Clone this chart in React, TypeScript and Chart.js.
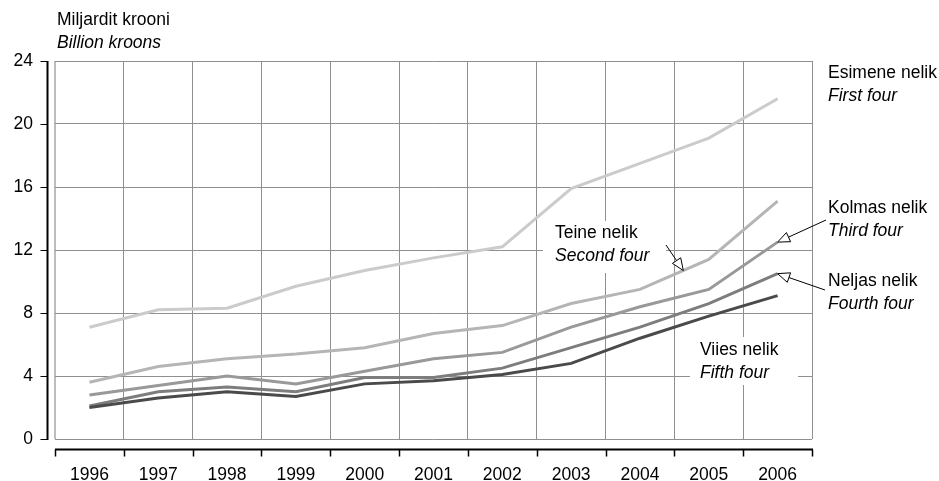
import React, { useEffect, useRef } from "react";
import { Chart, registerables } from "chart.js";

Chart.register(...registerables);

// ---- data ----
const years = ["1996", "1997", "1998", "1999", "2000", "2001", "2002", "2003", "2004", "2005", "2006"];
const firstFour = [7.1, 8.2, 8.3, 9.7, 10.7, 11.5, 12.2, 15.9, 17.5, 19.1, 21.6];
const secondFour = [3.6, 4.6, 5.1, 5.4, 5.8, 6.7, 7.2, 8.6, 9.5, 11.4, 15.1];
const thirdFour = [2.8, 3.4, 4.0, 3.5, 4.3, 5.1, 5.5, 7.1, 8.4, 9.5, 12.5];
const fourthFour = [2.1, 3.0, 3.3, 3.0, 3.9, 3.9, 4.5, 5.8, 7.1, 8.6, 10.5];
const fifthFour = [2.0, 2.6, 3.0, 2.7, 3.5, 3.7, 4.1, 4.8, 6.4, 7.8, 9.1];

const yMin = 0;
const yMax = 24;
const yStep = 4;

const yTitle = ["Miljardit krooni", "Billion kroons"];
const seriesLabels = {
  first: ["Esimene nelik", "First four"],
  second: ["Teine nelik", "Second four"],
  third: ["Kolmas nelik", "Third four"],
  fourth: ["Neljas nelik", "Fourth four"],
  fifth: ["Viies nelik", "Fifth four"],
};

const FONT_FAMILY = '"Liberation Sans", Arial, Helvetica, sans-serif';
const FONT_SIZE = 17.5;

function drawTwoLine(ctx: CanvasRenderingContext2D, lines: string[], x: number, y: number) {
  ctx.fillStyle = "#000";
  ctx.textAlign = "left";
  ctx.textBaseline = "middle";
  ctx.font = `${FONT_SIZE}px ${FONT_FAMILY}`;
  ctx.fillText(lines[0], x, y);
  ctx.font = `italic ${FONT_SIZE}px ${FONT_FAMILY}`;
  ctx.fillText(lines[1], x, y + 23.5);
}

function drawArrow(ctx: CanvasRenderingContext2D, x0: number, y0: number, x1: number, y1: number) {
  const ang = Math.atan2(y1 - y0, x1 - x0);
  const len = 12;
  const hw = 5;
  const bx = x1 - Math.cos(ang) * len;
  const by = y1 - Math.sin(ang) * len;
  ctx.strokeStyle = "#000";
  ctx.lineWidth = 1;
  ctx.beginPath();
  ctx.moveTo(x0, y0);
  ctx.lineTo(bx, by);
  ctx.stroke();
  const px = -Math.sin(ang) * hw;
  const py = Math.cos(ang) * hw;
  ctx.beginPath();
  ctx.moveTo(x1, y1);
  ctx.lineTo(bx + px, by + py);
  ctx.lineTo(bx - px, by - py);
  ctx.closePath();
  ctx.fillStyle = "#fff";
  ctx.fill();
  ctx.stroke();
}

const annotationPlugin = {
  id: "annotations",
  beforeDatasetsDraw(chart: any) {
    const ctx: CanvasRenderingContext2D = chart.ctx;
    ctx.save();
    // white label boxes inside the plot
    ctx.fillStyle = "#fff";
    ctx.fillRect(543, 221, 123, 52);
    ctx.fillRect(690, 337, 108, 48);
    drawTwoLine(ctx, seriesLabels.second, 555, 233);
    drawTwoLine(ctx, seriesLabels.fifth, 700, 350);
    ctx.restore();
  },
  afterDatasetsDraw(chart: any) {
    const ctx: CanvasRenderingContext2D = chart.ctx;
    const xs = chart.scales.x;
    const ys = chart.scales.y;
    const { left, right, top, bottom } = chart.chartArea;
    ctx.save();

    // y axis line (detached from plot area)
    const axX = left - 7.5;
    ctx.strokeStyle = "#000";
    ctx.lineWidth = 2;
    ctx.beginPath();
    ctx.moveTo(axX, top);
    ctx.lineTo(axX, bottom + 1);
    ctx.stroke();
    ctx.lineWidth = 1.2;
    ctx.beginPath();
    ys.ticks.forEach((t: any) => {
      const y = Math.round(ys.getPixelForValue(t.value)) + 0.5;
      ctx.moveTo(axX - 7, y);
      ctx.lineTo(axX, y);
    });
    ctx.stroke();

    // x axis line (detached below)
    const axY = bottom + 10.5;
    ctx.lineWidth = 2;
    ctx.beginPath();
    ctx.moveTo(left, axY);
    ctx.lineTo(right + 1, axY);
    ctx.stroke();
    ctx.lineWidth = 1.5;
    ctx.beginPath();
    const step = xs.getPixelForValue(1) - xs.getPixelForValue(0);
    for (let i = 0; i <= years.length; i++) {
      const x = i < years.length
        ? xs.getPixelForValue(i) - step / 2
        : xs.getPixelForValue(years.length - 1) + step / 2;
      const rx = Math.round(x) + 0.5;
      ctx.moveTo(rx, axY);
      ctx.lineTo(rx, axY + 7);
    }
    ctx.stroke();

    // y title
    drawTwoLine(ctx, yTitle, 57, 20);

    // right side labels
    drawTwoLine(ctx, seriesLabels.first, 828, 73);
    drawTwoLine(ctx, seriesLabels.third, 828, 208);
    drawTwoLine(ctx, seriesLabels.fourth, 828, 281);

    // arrows
    const last = years.length - 1;
    drawArrow(ctx, 826, 220, xs.getPixelForValue(last), ys.getPixelForValue(thirdFour[last]));
    drawArrow(ctx, 825, 290, xs.getPixelForValue(last), ys.getPixelForValue(fourthFour[last]));
    const f = 0.63;
    const tx = xs.getPixelForValue(8) * (1 - f) + xs.getPixelForValue(9) * f;
    const ty = ys.getPixelForValue(secondFour[8]) * (1 - f) + ys.getPixelForValue(secondFour[9]) * f;
    drawArrow(ctx, 666, 245, tx, ty);

    ctx.restore();
  },
};

export default function App() {
  const ref = useRef<HTMLCanvasElement | null>(null);

  useEffect(() => {
    if (!ref.current) return;
    const font = { family: FONT_FAMILY, size: FONT_SIZE };
    const mk = (label: string, data: number[], color: string, order: number) => ({
      label,
      data,
      borderColor: color,
      backgroundColor: color,
      borderWidth: 3,
      pointRadius: 0,
      tension: 0,
      fill: false,
      order,
    });
    const chart = new Chart(ref.current, {
      type: "line",
      data: {
        labels: years,
        datasets: [
          mk(seriesLabels.first[0], firstFour, "#cbcbcb", 4),
          mk(seriesLabels.second[0], secondFour, "#b5b5b5", 3),
          mk(seriesLabels.third[0], thirdFour, "#999999", 2),
          mk(seriesLabels.fourth[0], fourthFour, "#7d7d7d", 1),
          mk(seriesLabels.fifth[0], fifthFour, "#4a4a4a", 0),
        ],
      },
      options: {
        animation: false,
        responsive: false,
        maintainAspectRatio: false,
        layout: { padding: { left: 0, top: 61, right: 127, bottom: 0 } },
        plugins: { legend: { display: false }, tooltip: { enabled: false } },
        scales: {
          x: {
            type: "category",
            offset: true,
            grid: {
              offset: true,
              drawTicks: false,
              color: (c: any) => (c.index === 0 || c.index === years.length ? "#bdbdbd" : "#8f8f8f"),
              lineWidth: (c: any) => (c.index === 0 || c.index === years.length ? 2 : 1),
            },
            border: { display: false },
            ticks: { padding: 26, font, color: "#000", maxRotation: 0, autoSkip: false },
            afterFit: (s: any) => {
              s.height = 42;
            },
          },
          y: {
            min: yMin,
            max: yMax,
            grid: { drawTicks: false, color: "#8f8f8f", lineWidth: 1 },
            border: { display: false },
            ticks: { stepSize: yStep, padding: 22, font, color: "#000" },
            afterFit: (s: any) => {
              s.width = 55;
            },
          },
        },
      },
      plugins: [annotationPlugin],
    } as any);
    return () => chart.destroy();
  }, []);

  return (
    <div style={{ position: "fixed", left: 0, top: 0, width: 939, height: 481, background: "#fff" }}>
      <canvas ref={ref} width={939} height={481} style={{ width: 939, height: 481, display: "block" }} />
    </div>
  );
}
